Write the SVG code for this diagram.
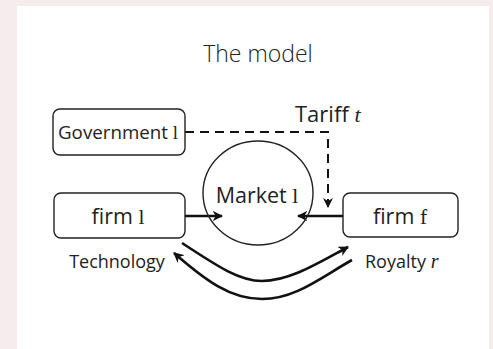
<svg xmlns="http://www.w3.org/2000/svg" width="493" height="349" viewBox="0 0 493 349">
<defs>
<style>
.box{fill:#fff;stroke:#222;stroke-width:1.4}
.t{font-family:"Open Sans","Noto Sans","Liberation Sans",sans-serif;fill:#222}
.lab{font-family:"Open Sans","Noto Sans","Liberation Sans",sans-serif;fill:#222;font-size:18px}
.it{font-family:"Liberation Serif",serif;font-style:italic}
.ln{fill:none;stroke:#111;stroke-width:2.6}
</style>
<marker id="ah" viewBox="0 0 10 10" refX="9" refY="5" markerWidth="4" markerHeight="4" orient="auto" markerUnits="strokeWidth">
<path d="M0,0 L10,5 L0,10 L3,5 Z" fill="#111"/>
</marker>
<marker id="ahd" viewBox="0 0 10 10" refX="9" refY="5" markerWidth="5" markerHeight="5" orient="auto" markerUnits="strokeWidth">
<path d="M0,0 L10,5 L0,10 L3,5 Z" fill="#111"/>
</marker>
</defs>
<rect x="0" y="0" width="493" height="349" fill="#f6ebed"/>
<rect x="17" y="6" width="472" height="343" fill="#fff"/>
<text class="t" x="258" y="62" font-size="23" font-weight="300" text-anchor="middle">The model</text>
<g id="connectors">
<path d="M185,132 H328 V207" fill="none" stroke="#111" stroke-width="2" stroke-dasharray="9,6" marker-end="url(#ahd)"/>
<path class="ln" d="M185,216 H222" marker-end="url(#ah)"/>
<path class="ln" d="M343,216 H298" marker-end="url(#ah)"/>
<path class="ln" d="M182,243 C220,268 240,281 262,281 C290,281 320,262 348,247" marker-end="url(#ah)"/>
<path class="ln" d="M352,260 C320,278 295,299 262,299 C230,299 205,280 174,253" marker-end="url(#ah)"/>
</g>
<g id="government">
<rect class="box" x="53" y="109" width="132" height="46" rx="7"/>
<text class="t" x="118" y="139" font-size="18.5" text-anchor="middle" textLength="120" lengthAdjust="spacingAndGlyphs">Government <tspan font-family="Liberation Serif,serif">l</tspan></text>
</g>
<text class="t" x="295" y="122" font-size="22">Tariff <tspan class="it">t</tspan></text>
<g id="market">
<ellipse cx="258" cy="193" rx="55" ry="52" fill="none" stroke="#222" stroke-width="1.4"/>
<text class="t" x="257" y="203" font-size="21.5" text-anchor="middle">Market <tspan font-family="Liberation Serif,serif">l</tspan></text>
</g>
<g id="firm-l">
<rect class="box" x="54" y="193" width="131" height="45" rx="7"/>
<text class="t" x="118" y="224" font-size="21.5" text-anchor="middle">firm <tspan font-family="Liberation Serif,serif">l</tspan></text>
</g>
<g id="firm-f">
<rect class="box" x="343" y="193" width="115" height="44" rx="7"/>
<text class="t" x="400" y="224" font-size="21.5" text-anchor="middle">firm <tspan font-family="Liberation Serif,serif">f</tspan></text>
</g>
<text class="lab" x="117" y="268" text-anchor="middle">Technology</text>
<text class="lab" x="365" y="268">Royalty <tspan class="it" font-size="20">r</tspan></text>
</svg>
